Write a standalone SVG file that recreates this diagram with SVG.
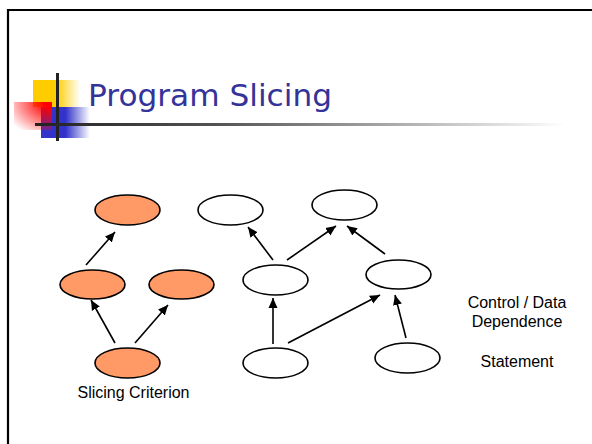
<svg xmlns="http://www.w3.org/2000/svg" width="592" height="444" viewBox="0 0 592 444">
  <defs>
    <linearGradient id="yellowFade" x1="0" y1="0" x2="1" y2="0">
      <stop offset="0" stop-color="#FFCC00"/>
      <stop offset="0.5" stop-color="#FFCC00"/>
      <stop offset="1" stop-color="#FFCC00" stop-opacity="0"/>
    </linearGradient>
    <linearGradient id="blueFade" x1="0" y1="0" x2="1" y2="0">
      <stop offset="0" stop-color="#3333CC"/>
      <stop offset="0.5" stop-color="#3333CC"/>
      <stop offset="1" stop-color="#3333CC" stop-opacity="0"/>
    </linearGradient>
    <radialGradient id="redFade" cx="1" cy="0" r="1.3" gradientUnits="objectBoundingBox">
      <stop offset="0" stop-color="#FF0000"/>
      <stop offset="0.15" stop-color="#FF0000"/>
      <stop offset="1" stop-color="#FF0000" stop-opacity="0"/>
    </radialGradient>
    <linearGradient id="ruleFade" x1="0" y1="0" x2="1" y2="0">
      <stop offset="0" stop-color="#222222"/>
      <stop offset="0.35" stop-color="#555555"/>
      <stop offset="1" stop-color="#FFFFFF"/>
    </linearGradient>
    <marker id="arrow" viewBox="0 0 10 10" refX="10" refY="5" markerWidth="10" markerHeight="10" markerUnits="userSpaceOnUse" orient="auto">
      <path d="M0,0.5 L10,5 L0,9.5 z" fill="#000"/>
    </marker>
  </defs>
  <style>
    .node { stroke: #000; stroke-width: 1.6; }
    .sliced { fill: #FF9966; }
    .plain { fill: #FFFFFF; }
    .edge { stroke: #000; stroke-width: 1.6; fill: none; marker-end: url(#arrow); }
    .label { font-family: "Liberation Sans", Arial, sans-serif; font-size: 16px; fill: #000; text-anchor: middle; }
    .title { font-family: "DejaVu Sans", Tahoma, sans-serif; font-size: 31px; fill: #333399; }
  </style>

  <!-- page frame -->
  <rect x="0" y="0" width="592" height="444" fill="#FFFFFF"/>
  <path d="M8,444 L8,10 L592,10" fill="none" stroke="#000" stroke-width="2.2"/>

  <!-- title decoration -->
  <g id="title-mark">
    <rect x="33" y="80" width="47" height="27" fill="url(#yellowFade)"/>
    <rect x="41" y="107" width="49" height="31" fill="url(#blueFade)"/>
    <rect x="14" y="102" width="38" height="28" fill="url(#redFade)"/>
    <rect x="56" y="73" width="3" height="68" fill="#222222"/>
    <rect x="35" y="123" width="530" height="3" fill="url(#ruleFade)"/>
  </g>
  <text class="title" x="88" y="106" textLength="244" lengthAdjust="spacingAndGlyphs">Program Slicing</text>

  <!-- connectors -->
  <g id="connectors">
    <line class="edge" x1="86" y1="265" x2="115" y2="232"/>
    <line class="edge" x1="115" y1="343" x2="91" y2="300"/>
    <line class="edge" x1="135" y1="343" x2="168" y2="305"/>
    <line class="edge" x1="273" y1="260" x2="248" y2="227"/>
    <line class="edge" x1="287" y1="260" x2="336" y2="226"/>
    <line class="edge" x1="385" y1="254" x2="347" y2="226"/>
    <line class="edge" x1="273" y1="344" x2="273" y2="298"/>
    <line class="edge" x1="288" y1="343" x2="380" y2="295"/>
    <line class="edge" x1="406" y1="338" x2="395" y2="295"/>
  </g>

  <!-- slice nodes -->
  <g id="s-top"><ellipse class="node sliced" cx="127.5" cy="210" rx="32.5" ry="15"/></g>
  <g id="s-midleft"><ellipse class="node sliced" cx="92.5" cy="284.5" rx="32.5" ry="14.5"/></g>
  <g id="s-midright"><ellipse class="node sliced" cx="181.5" cy="284.5" rx="32.5" ry="14.5"/></g>
  <g id="s-criterion"><ellipse class="node sliced" cx="127.5" cy="363" rx="32.5" ry="15"/></g>

  <!-- remaining statements -->
  <g id="n-topleft"><ellipse class="node plain" cx="230.5" cy="210" rx="32.5" ry="15"/></g>
  <g id="n-topright"><ellipse class="node plain" cx="344.5" cy="205" rx="32.5" ry="15"/></g>
  <g id="n-midleft"><ellipse class="node plain" cx="275.5" cy="280" rx="32.5" ry="15"/></g>
  <g id="n-midright"><ellipse class="node plain" cx="398.5" cy="274.5" rx="32.5" ry="14.5"/></g>
  <g id="n-bottomleft"><ellipse class="node plain" cx="275.5" cy="363" rx="32.5" ry="15"/></g>
  <g id="n-bottomright"><ellipse class="node plain" cx="407.5" cy="358" rx="32.5" ry="15"/></g>

  <!-- labels -->
  <text class="label" x="133.5" y="398">Slicing Criterion</text>
  <text class="label" x="517" y="308">Control / Data</text>
  <text class="label" x="517" y="327">Dependence</text>
  <text class="label" x="517" y="367">Statement</text>
</svg>
